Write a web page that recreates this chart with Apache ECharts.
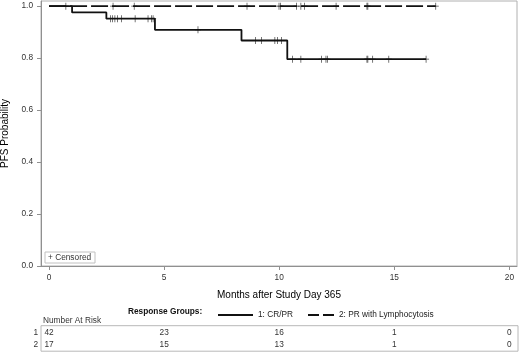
<!DOCTYPE html>
<html>
<head>
<meta charset="utf-8">
<script src="https://cdn.jsdelivr.net/npm/echarts@6/dist/echarts.min.js"></script>
<style>
  html, body { margin: 0; padding: 0; background: #fff; }
  #chart { width: 520px; height: 353px; }
</style>
</head>
<body>
<div id="chart"></div>
<script>
// Kaplan-Meier steps: [month, survival after the event]
var crprSteps = [[0, 1], [1.0, 0.976], [2.49, 0.952], [4.6, 0.909], [8.36, 0.868], [10.35, 0.796], [16.38, 0.796]]
var lymphSteps = [[0, 1], [16.8, 1]]
// censoring times (months)
var crprCensored = [2.67, 2.75, 2.86, 2.97, 3.15, 3.74, 4.3, 4.45, 4.52, 6.47, 8.97, 9.23, 9.81, 9.93, 10.1,
    10.58, 10.94, 11.84, 12.03, 12.09, 13.81, 13.85, 14.06, 14.76, 16.38]
var lymphCensored = [0.73, 2.78, 3.7, 8.6, 9.99, 10.06, 10.75, 10.94, 11.1, 12.47, 13.81, 13.85, 16.8]
var groupNames = ['1: CR/PR', '2: PR with Lymphocytosis']
var xTicks = [0, 5, 10, 15, 20]
var yTicks = [0, 0.2, 0.4, 0.6, 0.8, 1.0]
var riskTimes = [0, 5, 10, 15, 20]
var riskCrpr = [42, 23, 16, 1, 0]
var riskLymph = [17, 15, 13, 1, 0]

var FONT = "'Liberation Sans', Arial, sans-serif"
var PLUS = 'path://M4.4,0H5.6V4.4H10V5.6H5.6V10H4.4V5.6H0V4.4H4.4Z'

function survAt(steps, t) {
    var s = steps[0][1]
    steps.forEach(function (p) { if (p[0] <= t) s = p[1] })
    return s
}
function censorPoints(steps, times) {
    return times.map(function (t) { return [t, survAt(steps, t)] })
}

var chart = echarts.init(document.getElementById('chart'), null, { renderer: 'canvas' })

var option = {
    animation: false,
    textStyle: { fontFamily: FONT },
    grid: {
        left: 41, right: 3, top: 1, bottom: 87,
        containLabel: false, outerBoundsMode: 'none',
        show: true, borderColor: '#b0b0b0', borderWidth: 1
    },
    xAxis: {
        type: 'value', min: -0.35, max: 20.33,
        name: 'Months after Study Day 365',
        nameLocation: 'middle', nameGap: 24,
        nameTextStyle: { fontSize: 10, color: '#000', fontFamily: FONT },
        axisLine: { show: true, onZero: false, lineStyle: { color: '#909090' } },
        axisTick: { show: true, length: 4, customValues: xTicks, lineStyle: { color: '#909090' } },
        axisLabel: { customValues: xTicks, margin: 8, fontSize: 8.3, color: '#333', fontFamily: FONT },
        splitLine: { show: false }
    },
    yAxis: {
        type: 'value', min: 0, max: 1.02,
        name: 'PFS Probability',
        nameLocation: 'middle', nameRotate: 90, nameGap: 29,
        nameTextStyle: { fontSize: 10, color: '#000', fontFamily: FONT },
        axisLine: { show: true, onZero: false, lineStyle: { color: '#909090' } },
        axisTick: { show: true, length: 4, customValues: yTicks, lineStyle: { color: '#909090' } },
        axisLabel: {
            customValues: yTicks, margin: 8, fontSize: 8.3, color: '#333', fontFamily: FONT,
            formatter: function (v) { return v.toFixed(1) }
        },
        splitLine: { show: false }
    },
    legend: [{
        left: 212, top: 306, itemWidth: 35, itemHeight: 8, itemGap: 4,
        itemStyle: { opacity: 0 },
        textStyle: { fontSize: 8.3, color: '#222', fontFamily: FONT },
        data: [{ name: groupNames[0] }]
    }, {
        left: 302, top: 306, itemWidth: 26, itemHeight: 8,
        itemStyle: { opacity: 0 },
        lineStyle: { type: [11, 4] },
        textStyle: { fontSize: 8.3, color: '#222', fontFamily: FONT },
        data: [{ name: groupNames[1] }]
    }],
    series: [{
        name: groupNames[0], type: 'line', step: 'end', symbol: 'none',
        data: crprSteps,
        lineStyle: { color: '#111', width: 1.8 }, itemStyle: { color: '#111' }
    }, {
        name: groupNames[1], type: 'line', step: 'end', symbol: 'none',
        data: lymphSteps,
        lineStyle: { color: '#111', width: 1.8, type: [17, 4] }, itemStyle: { color: '#111' }
    }, {
        name: 'cens1', type: 'scatter', symbol: PLUS, symbolSize: [6, 7],
        data: censorPoints(crprSteps, crprCensored),
        itemStyle: { color: '#111' }, z: 3
    }, {
        name: 'cens2', type: 'scatter', symbol: PLUS, symbolSize: [6, 7],
        data: censorPoints(lymphSteps, lymphCensored),
        itemStyle: { color: '#111' }, z: 3
    }]
}
chart.setOption(option)

// risk table and annotations
var txt = { fontSize: 8.3, fill: '#333', fontFamily: FONT }
var g = [
    { type: 'rect', shape: { x: 45, y: 252, width: 50, height: 11 }, style: { fill: '#fff', stroke: '#c0c0c0', lineWidth: 1 }, z: 10 },
    { type: 'text', x: 48, y: 257.5, style: Object.assign({ text: '+ Censored', verticalAlign: 'middle' }, txt), z: 11 },
    { type: 'text', x: 128, y: 311.7, style: Object.assign({}, txt, { text: 'Response Groups:', fontWeight: 'bold', fill: '#111', verticalAlign: 'middle' }) },
    { type: 'text', x: 43, y: 320.7, style: Object.assign({ text: 'Number At Risk', verticalAlign: 'middle' }, txt) },
    { type: 'rect', shape: { x: 41, y: 325.7, width: 477, height: 25.5 }, style: { fill: 'none', stroke: '#b8b8b8', lineWidth: 1 } },
    { type: 'text', x: 38, y: 332.5, style: Object.assign({ text: '1', align: 'right', verticalAlign: 'middle' }, txt) },
    { type: 'text', x: 38, y: 345.2, style: Object.assign({ text: '2', align: 'right', verticalAlign: 'middle' }, txt) }
]
riskTimes.forEach(function (t, i) {
    var px = chart.convertToPixel({ xAxisIndex: 0 }, t)
    g.push({ type: 'text', x: px, y: 332.5, style: Object.assign({ text: String(riskCrpr[i]), align: 'center', verticalAlign: 'middle' }, txt) })
    g.push({ type: 'text', x: px, y: 345.2, style: Object.assign({ text: String(riskLymph[i]), align: 'center', verticalAlign: 'middle' }, txt) })
})
chart.setOption({ graphic: g })
</script>
</body>
</html>
